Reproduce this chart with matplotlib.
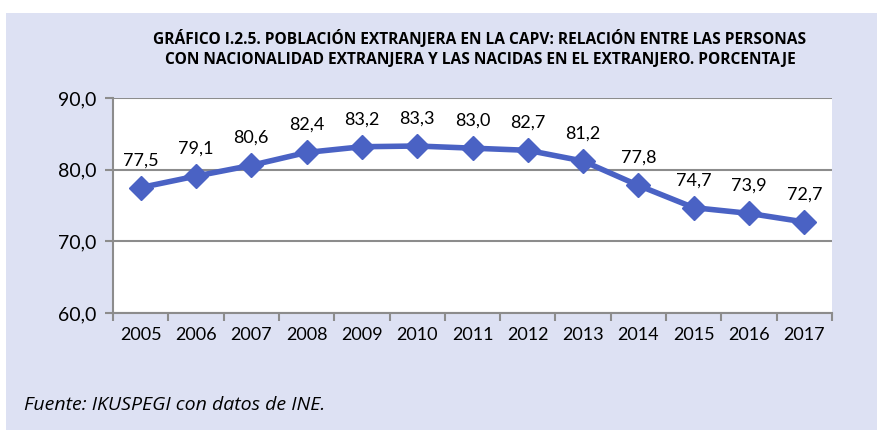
import matplotlib.pyplot as plt
import numpy as np
from matplotlib.patches import Rectangle

years = ["2005", "2006", "2007", "2008", "2009", "2010", "2011",
         "2012", "2013", "2014", "2015", "2016", "2017"]
ratio = [77.5, 79.1, 80.6, 82.4, 83.2, 83.3, 83.0, 82.7, 81.2, 77.8, 74.7, 73.9, 72.7]
y_ticks = [60, 70, 80, 90]

title = ("GRÁFICO I.2.5. POBLACIÓN EXTRANJERA EN LA CAPV: RELACIÓN ENTRE LAS PERSONAS\n"
         "CON NACIONALIDAD EXTRANJERA Y LAS NACIDAS EN EL EXTRANJERO. PORCENTAJE")
source = "Fuente: IKUSPEGI con datos de INE."

plt.rcParams["font.family"] = ["Lato", "DejaVu Sans"]

bg = "#dde1f3"
line_col = "#4a62c4"
grid_col = "#8c8c8c"

fig = plt.figure(figsize=(8.78, 4.30), dpi=100)
fig.patches.append(Rectangle((6 / 878, 0), 1, 1 - 13 / 430, transform=fig.transFigure,
                             facecolor=bg, edgecolor="none", zorder=-1))

ax = fig.add_axes([113 / 878, 1 - 313 / 430, (832 - 113) / 878, (313 - 98) / 430])
x = np.arange(len(years))
ax.plot(x, ratio, color=line_col, lw=4, marker="D", ms=12, zorder=3, clip_on=False)
for xi, v in zip(x, ratio):
    ax.annotate(f"{v:.1f}".replace(".", ","), (xi, v), xytext=(0, 14),
                textcoords="offset points", ha="center", va="bottom", fontsize=13)

ax.set_xlim(-0.5, len(years) - 0.5)
ax.set_ylim(60, 90)
ax.set_yticks(y_ticks)
ax.set_yticklabels([f"{t:.1f}".replace(".", ",") for t in y_ticks], fontsize=14)
ax.yaxis.grid(True, color=grid_col, lw=1.5)
ax.set_axisbelow(True)

ax.set_xticks(x)
ax.set_xticklabels(years, fontsize=13)
ax.set_xticks(np.arange(len(years) + 1) - 0.5, minor=True)
ax.tick_params(axis="x", which="major", length=0, pad=10)
ax.tick_params(axis="x", which="minor", length=6, width=1.5, color=grid_col)
ax.tick_params(axis="y", length=6, width=1.5, color=grid_col, pad=6)

for side in ["top", "right"]:
    ax.spines[side].set_visible(False)
for side in ["left", "bottom"]:
    ax.spines[side].set_color(grid_col)
    ax.spines[side].set_linewidth(1.5)

fig.text(480 / 878, 1 - 49 / 430, title, ha="center", va="center", fontsize=11.2,
         fontweight="bold", linespacing=1.4, family=["Open Sans", "DejaVu Sans"])
fig.text(24 / 878, 1 - 405 / 430, source, ha="left", va="center", fontsize=14,
         style="italic", family=["Open Sans", "DejaVu Sans"])

fig.savefig("out.png", dpi=100)
